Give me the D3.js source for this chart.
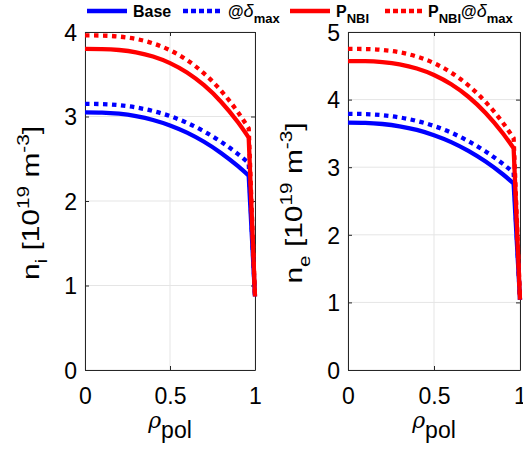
<!DOCTYPE html>
<html><head><meta charset="utf-8">
<script src="https://cdn.jsdelivr.net/npm/d3@7"></script>
<style>
body{margin:0;background:#fff;}
svg text{font-family:"Liberation Sans",Arial,Helvetica,sans-serif;fill:#000;}
</style></head>
<body><svg id="c" width="523" height="451"></svg>
<script>
const rho = [0, 0.1, 0.2, 0.3, 0.4, 0.5, 0.6, 0.7, 0.8, 0.9, 0.963, 1.0];
// ion density n_i [1e19 m^-3]
const niBase     = [3.05, 3.047, 3.033, 3.004, 2.959, 2.894, 2.809, 2.701, 2.569, 2.412, 2.30, 0.87];
const niDelta    = [3.15, 3.147, 3.134, 3.107, 3.065, 3.005, 2.925, 2.824, 2.701, 2.555, 2.45, 0.87];
const niNBI      = [3.80, 3.798, 3.787, 3.760, 3.710, 3.632, 3.521, 3.370, 3.175, 2.931, 2.75, 0.87];
const niNBIDelta = [3.96, 3.958, 3.946, 3.918, 3.866, 3.784, 3.668, 3.510, 3.306, 3.050, 2.86, 0.87];
// electron density n_e [1e19 m^-3]
const neBase     = [3.66, 3.656, 3.639, 3.605, 3.551, 3.473, 3.371, 3.241, 3.083, 2.895, 2.76, 1.04];
const neDelta    = [3.79, 3.786, 3.770, 3.737, 3.684, 3.610, 3.511, 3.385, 3.233, 3.050, 2.92, 1.04];
const neNBI      = [4.57, 4.568, 4.554, 4.521, 4.460, 4.364, 4.227, 4.042, 3.803, 3.503, 3.28, 1.04];
const neNBIDelta = [4.75, 4.748, 4.734, 4.700, 4.637, 4.539, 4.399, 4.210, 3.965, 3.658, 3.43, 1.04];
const xTicks = [0, 0.5, 1];
const xTickLabels = ["0", "0.5", "1"];
const niTicks = [0, 1, 2, 3, 4];
const neTicks = [0, 1, 2, 3, 4, 5];
const seriesNames = ["Base", "@δmax", "PNBI", "PNBI@δmax"];
const seriesColors = ["#0000ff", "#0000ff", "#ff0000", "#ff0000"];
const seriesDotted = [false, true, false, true];

const svg = d3.select("#c");
const DASH = "4.5,4.5";

function panel(x0, x1, y0, y1, yMax, yTicks, data, sub) {
  const x = d3.scaleLinear().domain([0, 1]).range([x0, x1]);
  const y = d3.scaleLinear().domain([0, yMax]).range([y1, y0]);
  const g = svg.append("g");
  // grid
  g.selectAll(".gx").data(xTicks).enter().append("line")
    .attr("x1", d => x(d)).attr("x2", d => x(d)).attr("y1", y0).attr("y2", y1)
    .attr("stroke", "#e5e5e5").attr("stroke-width", 1);
  g.selectAll(".gy").data(yTicks).enter().append("line")
    .attr("y1", d => y(d)).attr("y2", d => y(d)).attr("x1", x0).attr("x2", x1)
    .attr("stroke", "#e5e5e5").attr("stroke-width", 1);
  // axes
  const ax = g.append("g").attr("transform", `translate(0,${y1})`)
    .call(d3.axisBottom(x).tickValues(xTicks).tickFormat((d, i) => xTickLabels[i]).tickSizeInner(-4).tickSizeOuter(0).tickPadding(18));
  const ay = g.append("g").attr("transform", `translate(${x0},0)`)
    .call(d3.axisLeft(y).tickValues(yTicks).tickFormat(d3.format("d")).tickSizeInner(-4).tickSizeOuter(0).tickPadding(8));
  const axTop = g.append("g").attr("transform", `translate(0,${y0})`)
    .call(d3.axisTop(x).tickValues(xTicks).tickFormat("").tickSizeInner(-4).tickSizeOuter(0));
  const ayR = g.append("g").attr("transform", `translate(${x1},0)`)
    .call(d3.axisRight(y).tickValues(yTicks).tickFormat("").tickSizeInner(-4).tickSizeOuter(0));
  [ax, ay, axTop, ayR].forEach(a => {
    a.select(".domain").attr("stroke", "#262626").attr("stroke-width", 1);
    a.selectAll(".tick line").attr("stroke", "#262626");
    a.selectAll("text").attr("font-size", 23).attr("fill", "#000")
      .style("font-family", '"Liberation Sans",Arial,sans-serif');
  });
  ay.selectAll("text").attr("dy", "0.36em");
  // lines: smooth core profile, sharp drop in the edge segment
  const n = rho.length;
  const core = d3.line().curve(d3.curveMonotoneX).x((d, i) => x(rho[i])).y(d => y(d));
  data.forEach((s, k) => {
    const dstr = core(s.slice(0, n - 1)) + "L" + x(rho[n - 1]) + "," + y(s[n - 1]);
    g.append("path").attr("d", dstr).attr("fill", "none")
      .attr("stroke", seriesColors[k]).attr("stroke-width", 4.3)
      .attr("stroke-dasharray", seriesDotted[k] ? DASH : null)
      .attr("stroke-linejoin", "miter");
  });
  // x label
  const xl = g.append("text").attr("x", (x0 + x1) / 2).attr("y", 428)
    .attr("text-anchor", "middle").attr("font-size", 24);
  xl.append("tspan").text("ρ").style("font-family", '"DejaVu Serif",serif').attr("font-style", "italic").attr("font-size", 22);
  xl.append("tspan").text("pol").attr("dy", 10).attr("font-size", 23);
  // y label
  const yl = g.append("text").attr("transform", `translate(${x0 - 46},203) rotate(-90) scale(1.3,1)`)
    .attr("text-anchor", "middle").attr("font-size", 23);
  yl.append("tspan").text("n");
  yl.append("tspan").text(sub).attr("dy", 8).attr("font-size", 16);
  yl.append("tspan").text(" [10").attr("dy", -8);
  yl.append("tspan").text("19").attr("dy", -10).attr("font-size", 16);
  yl.append("tspan").text(" m").attr("dy", 10);
  yl.append("tspan").text("-3").attr("dy", -10).attr("font-size", 16);
  yl.append("tspan").text("]").attr("dy", 10);
}

panel(85, 255, 32, 370, 4, niTicks, [niBase, niDelta, niNBI, niNBIDelta], "i");
panel(348, 520, 32, 370, 5, neTicks, [neBase, neDelta, neNBI, neNBIDelta], "e");

// legend
const leg = svg.append("g");
const legItems = [
  {x: 87, tx: 133, parts: [["Base", 0]]},
  {x: 183, tx: 228, parts: [["@", 0], ["δ", 0, true], ["max", 1]]},
  {x: 290, tx: 336, parts: [["P", 0], ["NBI", 1]]},
  {x: 385, tx: 428, parts: [["P", 0], ["NBI", 1], ["@", 2], ["δ", 0, true], ["max", 1]]}
];
legItems.forEach((it, k) => {
  leg.append("line").attr("x1", it.x).attr("x2", it.x + 40).attr("y1", 11).attr("y2", 11)
    .attr("stroke", seriesColors[k]).attr("stroke-width", 4.3)
    .attr("stroke-dasharray", seriesDotted[k] ? "5,3" : null);
  const t = leg.append("text").attr("x", it.tx).attr("y", 17).attr("font-size", 16).attr("font-weight", "bold");
  let cur = 0;
  it.parts.forEach(([s, mode, it2]) => {
    const sp = t.append("tspan").text(s);
    if (it2) sp.attr("font-style", "italic").attr("font-weight", "normal").attr("font-size", 18);
    if (mode === 1) { sp.attr("font-size", 13); if (cur === 0) sp.attr("dy", 6); cur = 1; }
    else if (cur === 1) { sp.attr("dy", -6); cur = 0; }
  });
});
</script></body></html>
